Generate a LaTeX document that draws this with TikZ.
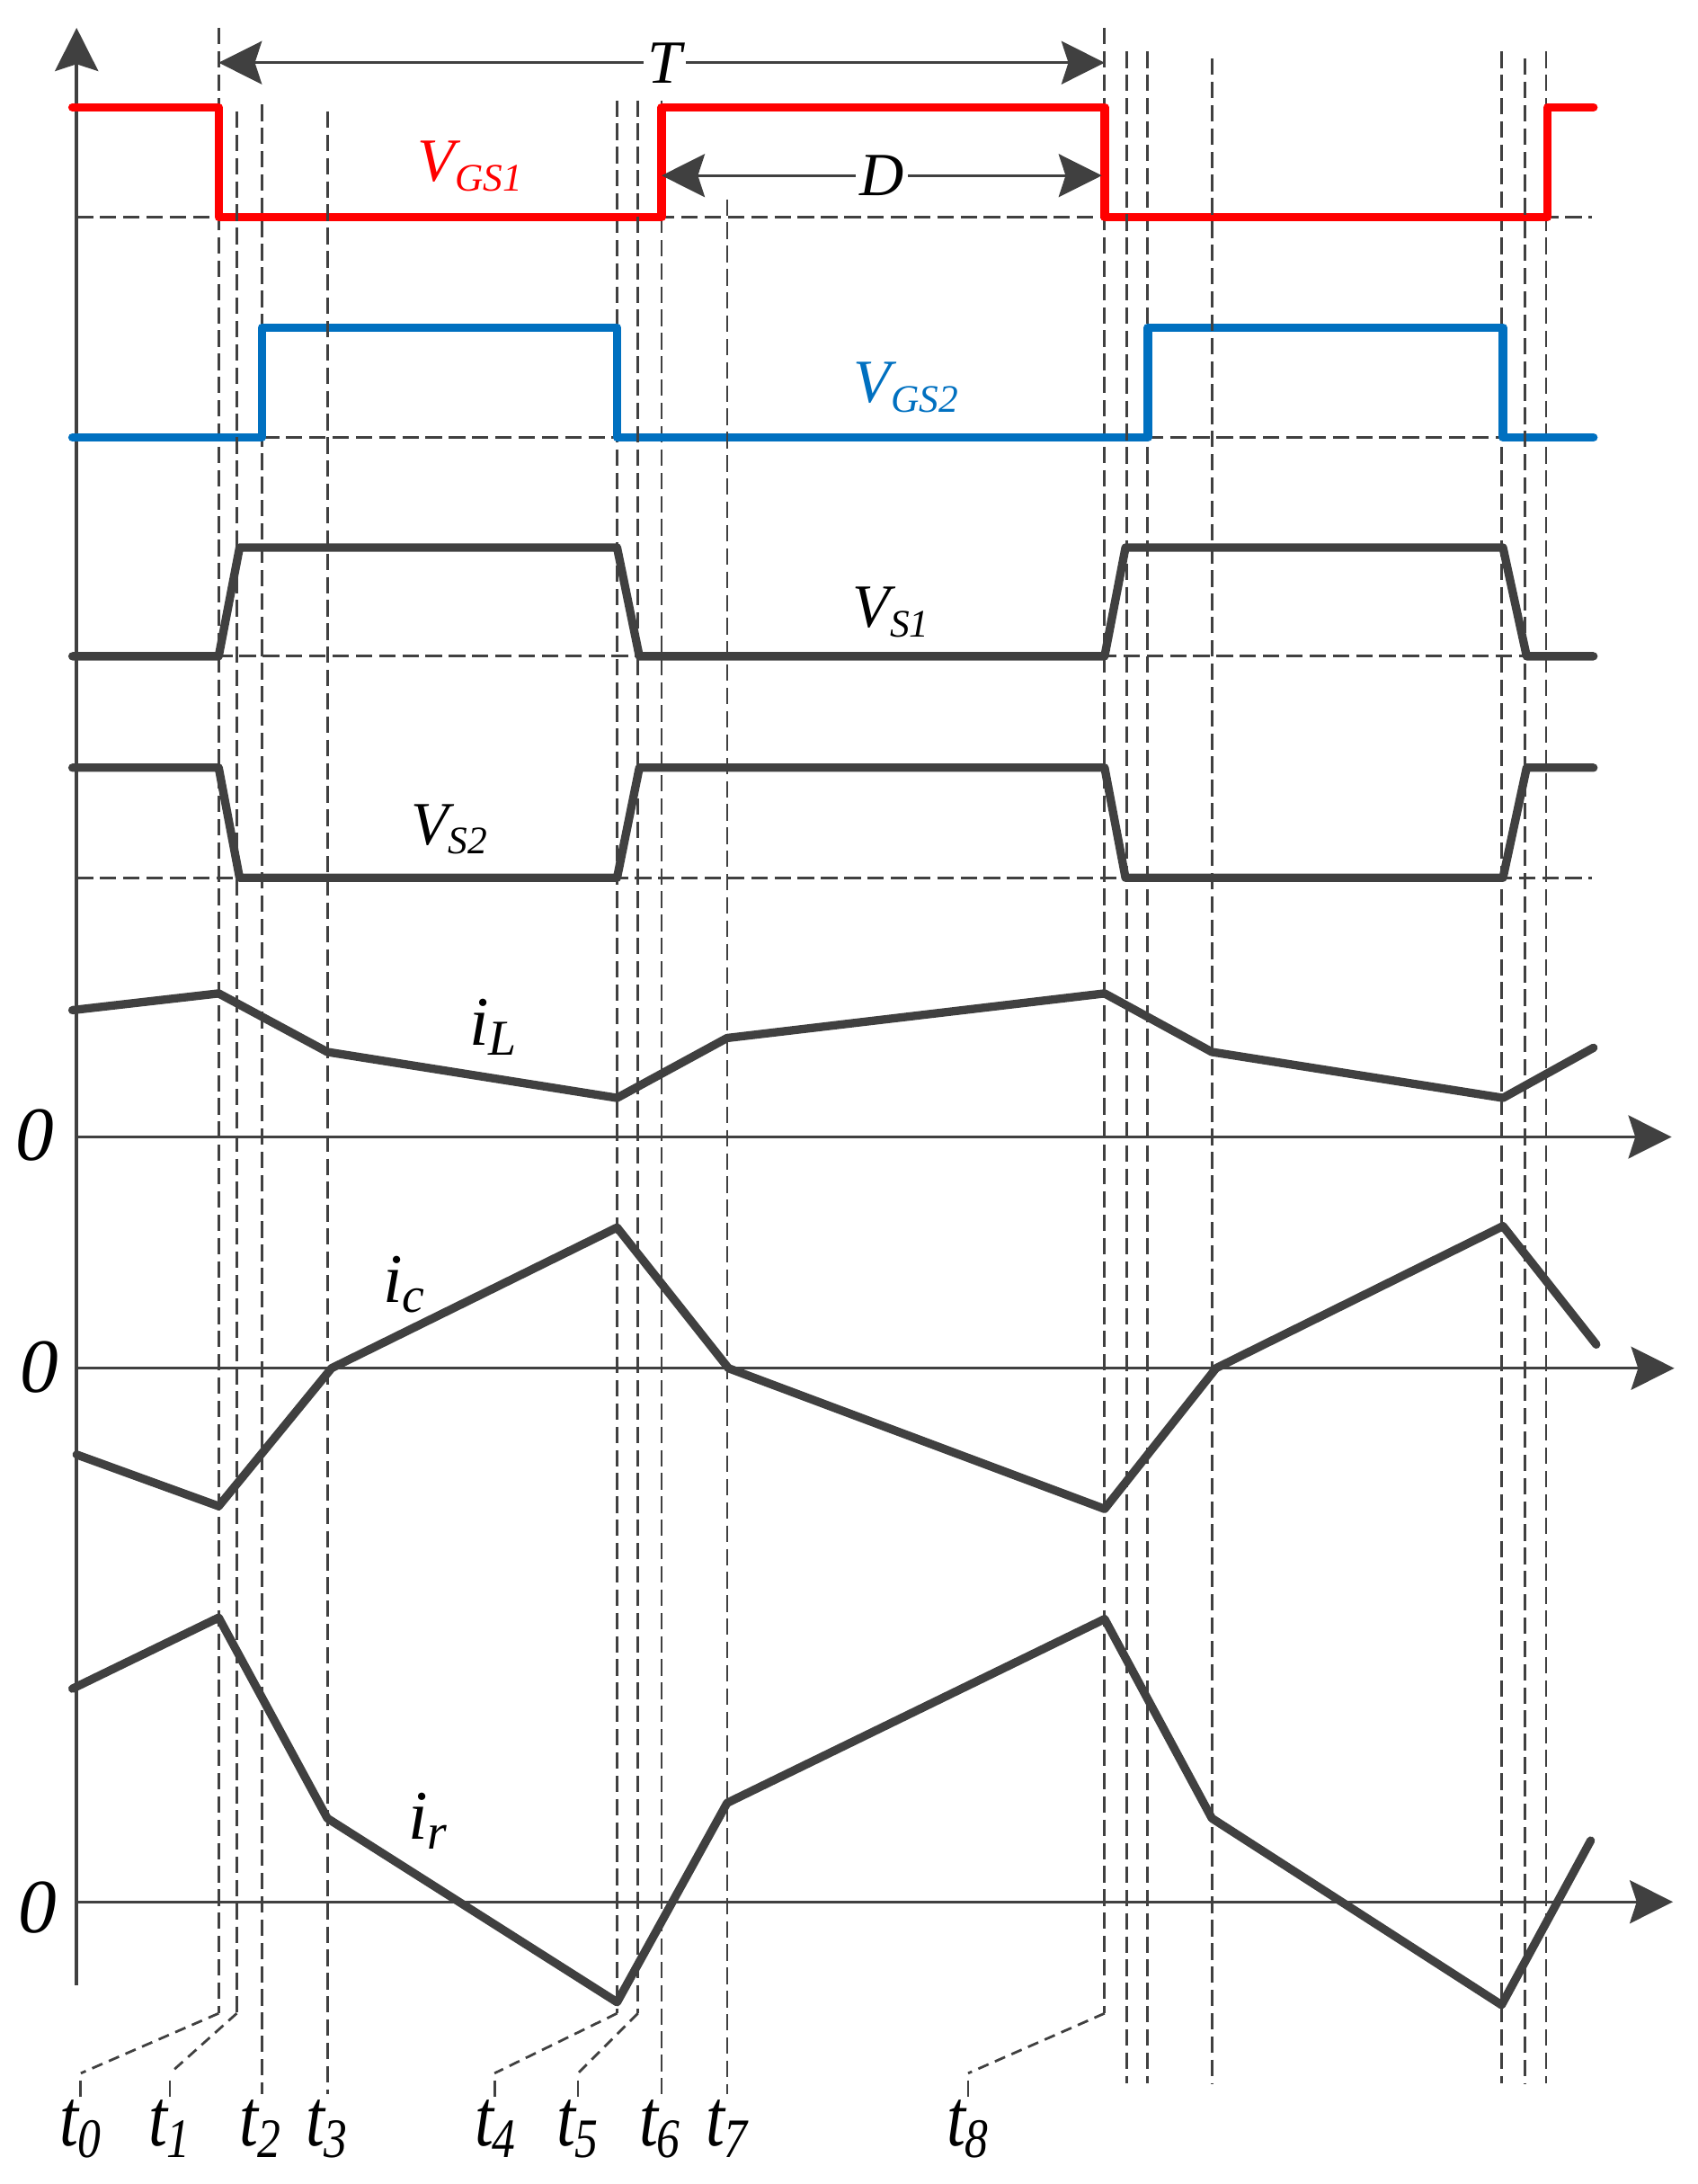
\documentclass[tikz,border=0pt]{standalone}
\usepackage{fontspec}
\setmainfont{Liberation Serif}
\usetikzlibrary{arrows.meta}
\definecolor{wave}{HTML}{404040}
\definecolor{gsblue}{HTML}{0070C0}
\newcommand{\vlbl}[2]{\fontsize{44}{44}\selectfont\itshape #1\raisebox{-7pt}{\fontsize{28}{28}\selectfont #2}}
\newcommand{\ilbl}[1]{\fontsize{50}{50}\selectfont\itshape i\raisebox{-7pt}{\fontsize{36}{36}\selectfont #1}}
\newcommand{\tlbl}[1]{\scalebox{0.9}[1.08]{\fontsize{54}{54}\selectfont\itshape t\kern-1pt\raisebox{-8pt}{\fontsize{37}{37}\selectfont #1}}}
\begin{document}
\begin{tikzpicture}[x=1pt, y=-1pt, >={Stealth[length=31pt,width=31pt,inset=5pt]}]
\tikzset{
  baseline dash/.style={wave, line width=1.8pt, dash pattern=on 11.8pt off 4.9pt},
  signal/.style={wave, line width=6pt, line cap=round, line join=round},
  axisline/.style={wave, line width=1.8pt},
  every node/.style={inner sep=0pt, outer sep=0pt}
}
\useasboundingbox (0,0) rectangle (1219,1567.5);

% level lines
\foreach \y in {156,314,471,630}
  \draw[baseline dash] (55,\y) -- (1143,\y);

% axes
\draw[axisline,line width=2.5pt,->] (55,1425) -- (55,20);
\draw[axisline,->] (55,816) -- (1200,816);
\draw[axisline,->] (55,982) -- (1202,982);
\draw[axisline,->] (55,1365) -- (1201,1365);

% time lines behind the waves
\foreach \x/\a/\b in {157/20/1445, 188/75/1503, 443/72/1445, 475/72/1503, 793/20/1445, 824/37/1495, 1078/37/1495, 1110/37/1495}
  \draw[baseline dash] (\x,\a) -- (\x,\b);

% gate signals
\draw[signal,red] (52,77) -- (157,77) -- (157,156) -- (475,156) -- (475,77) -- (793,77) -- (793,156) -- (1111,156) -- (1111,77) -- (1144,77);
\draw[signal,gsblue] (52,314) -- (188,314) -- (188,235) -- (443,235) -- (443,314) -- (824,314) -- (824,235) -- (1079,235) -- (1079,314) -- (1144,314);

% switch voltages
\draw[signal] (52,471) -- (157,471) -- (172,393) -- (443,393) -- (459,471) -- (793,471) -- (808,393) -- (1079,393) -- (1096,471) -- (1144,471);
\draw[signal] (52,551) -- (157,551) -- (172,630) -- (443,630) -- (459,551) -- (793,551) -- (808,630) -- (1079,630) -- (1096,551) -- (1144,551);

% currents
\draw[signal] (52,725) -- (157,713) -- (235,755) -- (443,788) -- (522,745) -- (793,713) -- (870,755) -- (1079,788) -- (1144,752);
\draw[signal] (55,1044) -- (157,1081) -- (238,982) -- (443,881) -- (523,982) -- (793,1083) -- (873,982) -- (1079,880) -- (1146,965);
\draw[signal] (52,1212) -- (157,1161) -- (235,1305) -- (443,1437) -- (522,1294) -- (793,1162) -- (870,1305) -- (1078,1439) -- (1142,1321);

% time lines over the waves
\foreach \x/\a/\b in {170/80/1445, 235/80/1503, 458/72/1445, 522/143/1503, 809/37/1495, 870/42/1495, 1095/42/1495}
  \draw[baseline dash] (\x,\a) -- (\x,\b);

% period and duty arrows
\coordinate (Tl) at (157,45);
\coordinate (Tr) at (793,45);
\coordinate (Dl) at (475,126);
\coordinate (Dr) at (791,126);
\draw[axisline,<->] (Tl) -- (Tr);
\draw[axisline,<->] (Dl) -- (Dr);
\node[fill=white,inner xsep=3pt,font=\fontsize{44}{44}\selectfont\itshape] (T) at (477,45) {T};
\node[fill=white,inner xsep=3pt,font=\fontsize{44}{44}\selectfont\itshape] (D) at (633,126) {D};

% leaders to the time labels
\foreach \n/\xa/\xb in {l0/157/58, l1/170/122, l4/443/355, l5/458/415, l8/793/695}{
  \coordinate (\n a) at (\xa,1445);
  \coordinate (\n b) at (\xb,1488);
  \coordinate (\n c) at (\xb,1493);
  \coordinate (\n d) at (\xb,1505);
  \draw[baseline dash,dash pattern=on 8pt off 5pt] (\n a) -- (\n b);
  \draw[wave,line width=1.8pt] (\n c) -- (\n d);
}

% wave labels
\node[anchor=base west,red] (vgsa) at (300,130) {\vlbl{V}{GS1}};
\node[anchor=base west,gsblue] (vgsb) at (613,289) {\vlbl{V}{GS2}};
\node[anchor=base west] (vsa) at (612,450) {\vlbl{V}{S1}};
\node[anchor=base west] (vsb) at (295,606) {\vlbl{V}{S2}};
\node[anchor=base west] (il) at (337,750) {\ilbl{L}};
\node[anchor=base west] (ic) at (275,935) {\ilbl{c}};
\node[anchor=base west] (ir) at (293,1320) {\ilbl{r}};

% zero labels
\node[anchor=base,font=\fontsize{55}{55}\selectfont\itshape] (zl) at (25,833) {0};
\node[anchor=base,font=\fontsize{55}{55}\selectfont\itshape] (zc) at (28,999) {0};
\node[anchor=base,font=\fontsize{55}{55}\selectfont\itshape] (zr) at (27,1387) {0};

% time labels
\node[anchor=base west] (t0) at (43,1540) {\tlbl{0}};
\node[anchor=base west] (t1) at (107,1540) {\tlbl{1}};
\node[anchor=base west] (t2) at (172,1540) {\tlbl{2}};
\node[anchor=base west] (t3) at (220,1540) {\tlbl{3}};
\node[anchor=base west] (t4) at (341,1540) {\tlbl{4}};
\node[anchor=base west] (t5) at (400,1540) {\tlbl{5}};
\node[anchor=base west] (t6) at (459,1540) {\tlbl{6}};
\node[anchor=base west] (t7) at (507,1540) {\tlbl{7}};
\node[anchor=base west] (t8) at (680,1540) {\tlbl{8}};
\end{tikzpicture}
\end{document}
